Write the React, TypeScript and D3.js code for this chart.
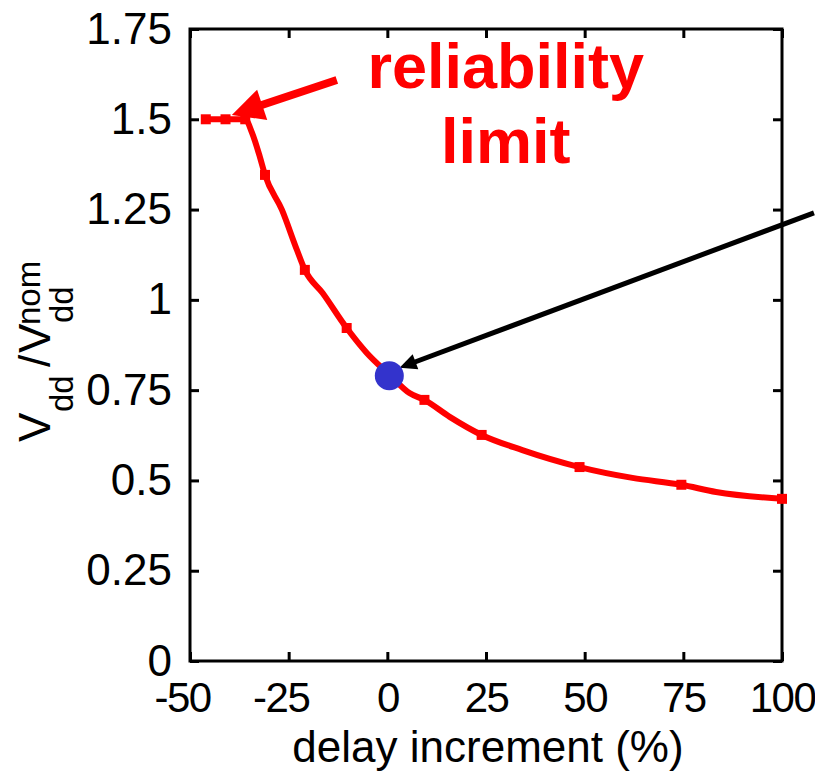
import * as d3 from 'd3';
import React, { useEffect, useRef } from 'react';

// curve: delay increment (%) vs Vdd / Vdd_nom
const delayPct = [-46, -41, -36, -34.3, -32.3, -31, -26.7, -22.9, -20.9, -16.4, -10.3, -5.2, 0.6, 5.6, 9.4, 15.8, 23.9, 34.2, 48.7, 62.1, 74.5, 83.3, 100];
const vddRatio = [1.5, 1.5, 1.5, 1.463, 1.396, 1.346, 1.249, 1.138, 1.083, 1.019, 0.922, 0.853, 0.792, 0.742, 0.723, 0.676, 0.626, 0.584, 0.537, 0.507, 0.488, 0.468, 0.449];
const markerIndex = [0, 1, 2, 5, 8, 10, 14, 16, 18, 20, 22];

const xTicks = [-50, -25, 0, 25, 50, 75, 100];
const yTicks = [0, 0.25, 0.5, 0.75, 1, 1.25, 1.5, 1.75];

// nominal operating point (blue dot)
const nominalDelay = 0.5;
const nominalVdd = 0.79;

// annotation arrows [from, to] in data units
const reliabilityArrow = [[-12.8, 1.609], [-39.4, 1.512]];
const nominalArrow = [[108.1, 1.241], [3.1, 0.812]];
const annotationLines = ['reliability', 'limit'];
const annotationPos = [[30, 1.587], [30, 1.379]];

const width = 815;
const height = 782;
const margin = { top: 29, right: 33, bottom: 121, left: 190 };
const font = '"Liberation Sans", Arial, Helvetica, sans-serif';

function drawArrow(g, from, to, color, lw, headLen, headHalf) {
  const [x1, y1] = from;
  const [x2, y2] = to;
  const ang = Math.atan2(y2 - y1, x2 - x1);
  const bx = x2 - headLen * Math.cos(ang);
  const by = y2 - headLen * Math.sin(ang);
  g.append('line')
    .attr('x1', x1).attr('y1', y1)
    .attr('x2', bx + 2 * Math.cos(ang)).attr('y2', by + 2 * Math.sin(ang))
    .attr('stroke', color).attr('stroke-width', lw);
  const px = -Math.sin(ang), py = Math.cos(ang);
  g.append('polygon')
    .attr('points', [
      [x2, y2],
      [bx + px * headHalf, by + py * headHalf],
      [bx - px * headHalf, by - py * headHalf]
    ].map(p => p.join(',')).join(' '))
    .attr('fill', color);
}

function VddChart() {
  const ref = useRef(null);

  useEffect(() => {
    const svg = d3.select(ref.current);
    svg.selectAll('*').remove();

    const x = d3.scaleLinear().domain([-50, 100]).range([margin.left, width - margin.right]);
    const y = d3.scaleLinear().domain([0, 1.75]).range([height - margin.bottom, margin.top]);

    const styleAxis = (g) => {
      g.select('.domain').remove();
      g.selectAll('.tick line').attr('stroke', '#000').attr('stroke-width', 3);
      g.selectAll('text').attr('font-family', font).attr('font-size', 44).attr('fill', '#000');
    };

    svg.append('g')
      .attr('transform', `translate(0,${height - margin.bottom})`)
      .call(d3.axisBottom(x).tickValues(xTicks).tickSizeInner(-9).tickSizeOuter(0).tickPadding(21).tickFormat(d => String(d)))
      .call(styleAxis)
      .call(g => g.selectAll('text')
        .attr('font-size', 42)
        .attr('letter-spacing', -1.5)
        .attr('dx', d => (d < 0 ? -8 : 0)));

    svg.append('g')
      .attr('transform', `translate(0,${margin.top})`)
      .call(d3.axisTop(x).tickValues(xTicks).tickSizeInner(-9).tickSizeOuter(0).tickFormat(() => ''))
      .call(styleAxis);

    svg.append('g')
      .attr('transform', `translate(${margin.left},0)`)
      .call(d3.axisLeft(y).tickValues(yTicks).tickSizeInner(-9).tickSizeOuter(0).tickPadding(18).tickFormat(d => String(d)))
      .call(styleAxis);

    svg.append('g')
      .attr('transform', `translate(${width - margin.right},0)`)
      .call(d3.axisRight(y).tickValues(yTicks).tickSizeInner(-9).tickSizeOuter(0).tickFormat(() => ''))
      .call(styleAxis);

    // frame
    svg.append('rect')
      .attr('x', x(-50)).attr('y', y(1.75))
      .attr('width', x(100) - x(-50)).attr('height', y(0) - y(1.75))
      .attr('fill', 'none').attr('stroke', '#000').attr('stroke-width', 3);

    // x label
    svg.append('text')
      .attr('x', (x(-50) + x(100)) / 2 + 2).attr('y', 762)
      .attr('text-anchor', 'middle')
      .attr('font-family', font).attr('font-size', 44)
      .text('delay increment (%)');

    // y label: V_dd / V_dd^nom, rotated
    const yl = svg.append('g')
      .attr('transform', 'translate(50,352) rotate(-90)')
      .attr('font-family', font).attr('fill', '#000');
    yl.append('text').attr('x', -90).attr('y', 0).attr('font-size', 44).text('V');
    yl.append('text').attr('x', -60).attr('y', 23).attr('font-size', 33).text('dd');
    yl.append('text').attr('x', -15).attr('y', 0).attr('font-size', 44).text('/');
    yl.append('text').attr('x', -1).attr('y', 0).attr('font-size', 44).text('V');
    yl.append('text').attr('x', 29).attr('y', 23).attr('font-size', 33).text('dd');
    yl.append('text').attr('x', 27).attr('y', -10).attr('font-size', 33).text('nom');

    const pts = delayPct.map((d, i) => [d, vddRatio[i]]);

    const line = d3.line()
      .x(d => x(d[0]))
      .y(d => y(d[1]))
      .curve(d3.curveMonotoneX);

    svg.append('path')
      .attr('d', line(pts))
      .attr('fill', 'none')
      .attr('stroke', '#ff0000')
      .attr('stroke-width', 6);

    svg.selectAll('.mk')
      .data(markerIndex.map(i => pts[i]))
      .enter().append('path')
      .attr('class', 'mk')
      .attr('transform', d => `translate(${x(d[0])},${y(d[1])})`)
      .attr('d', d3.symbol(d3.symbolSquare, 100)())
      .attr('fill', '#ff0000');

    // annotation
    const ann = svg.append('g');
    drawArrow(ann, reliabilityArrow[0].map((v, i) => (i ? y(v) : x(v))), reliabilityArrow[1].map((v, i) => (i ? y(v) : x(v))), '#ff0000', 8, 32, 16);
    annotationLines.forEach((t, i) => {
      ann.append('text')
        .attr('x', x(annotationPos[i][0])).attr('y', y(annotationPos[i][1]))
        .attr('text-anchor', 'middle')
        .attr('font-family', font).attr('font-weight', 'bold').attr('font-size', 63)
        .attr('fill', '#ff0000')
        .text(t);
    });

    drawArrow(ann, nominalArrow[0].map((v, i) => (i ? y(v) : x(v))), nominalArrow[1].map((v, i) => (i ? y(v) : x(v))), '#000', 5, 17, 8);

    svg.append('circle')
      .attr('cx', x(nominalDelay)).attr('cy', y(nominalVdd))
      .attr('r', 14.5)
      .attr('fill', '#3333cc');
  }, []);

  return (
    <div style={{ position: 'absolute', left: 0, top: 0 }}>
      <svg ref={ref} width={width} height={height} style={{ display: 'block', background: '#fff' }} />
    </div>
  );
}

export default function App() {
  return <VddChart />;
}
